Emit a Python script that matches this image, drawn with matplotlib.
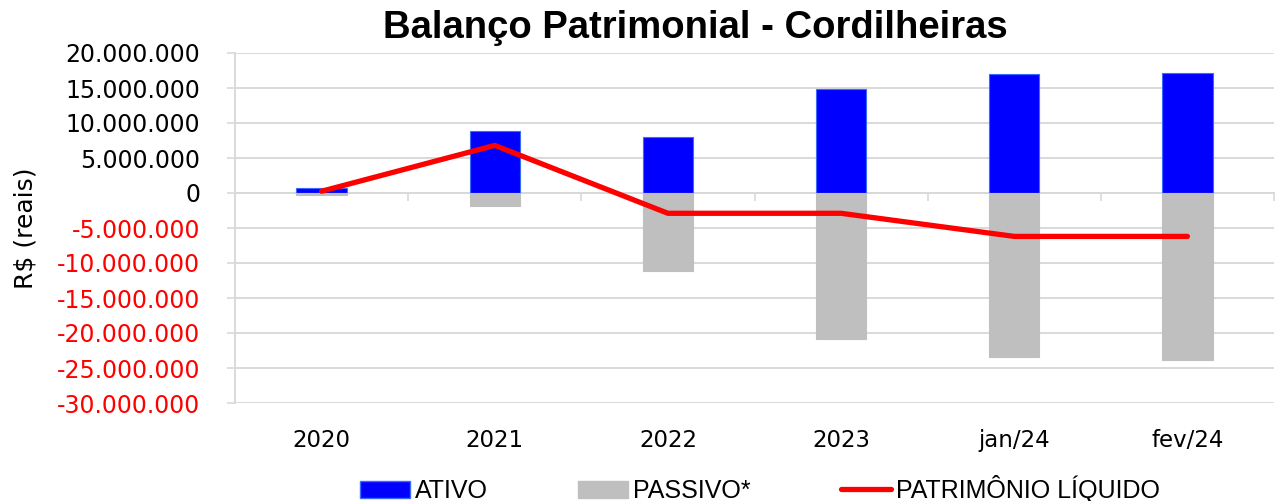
import matplotlib
matplotlib.use("Agg")
import matplotlib.pyplot as plt
from matplotlib.patches import Patch
from matplotlib.lines import Line2D
from matplotlib.ticker import FuncFormatter

categories = ["2020", "2021", "2022", "2023", "jan/24", "fev/24"]
ativo = [0.71e6, 8.9e6, 8.0e6, 14.8e6, 17.05e6, 17.15e6]
passivo = [-0.35e6, -1.9e6, -11.15e6, -20.9e6, -23.45e6, -23.85e6]
patrimonio = [0.25e6, 6.8e6, -2.9e6, -2.9e6, -6.2e6, -6.2e6]
yticks = list(range(-30_000_000, 20_000_001, 5_000_000))

plt.rcParams["font.family"] = ["DejaVu Sans"]

W, H = 1278, 501
fig = plt.figure(figsize=(W / 100, H / 100), dpi=100)
ax = fig.add_axes([235 / W, (H - 403) / H, (1274 - 235) / W, 350 / H])

x = list(range(len(categories)))
bw = 0.29
ax.bar(x, ativo, width=bw, color="#0000FF", edgecolor="#3A6BFF", linewidth=0.8, zorder=3)
ax.bar(x, passivo, width=bw, color="#BFBFBF", edgecolor="#BFBFBF", linewidth=0.8, zorder=3)
ax.plot(x, patrimonio, color="#FF0000", linewidth=3.8, solid_capstyle="round",
        solid_joinstyle="round", zorder=4)

ax.set_xlim(-0.5, len(categories) - 0.5)
ax.set_ylim(yticks[0], yticks[-1])
ax.set_yticks(yticks)

def fmt(v, pos):
    v = int(round(v))
    s = f"{abs(v):,}".replace(",", ".")
    return ("-" if v < 0 else "") + s

ax.yaxis.set_major_formatter(FuncFormatter(fmt))
ax.tick_params(axis="y", labelsize=17, length=6, width=1.2, color="#D9D9D9", pad=19)
for lbl, v in zip(ax.get_yticklabels(), yticks):
    lbl.set_color("#FF0000" if v < 0 else "black")

ax.set_xticks(x)
ax.set_xticklabels(categories)
ax.tick_params(axis="x", labelsize=16.5, length=0, pad=19)

ax.grid(axis="y", color="#D9D9D9", linewidth=1.4, zorder=0)
ax.set_axisbelow(True)
for s in ["top", "right", "bottom"]:
    ax.spines[s].set_visible(False)
ax.spines["left"].set_color("#D9D9D9")
ax.spines["left"].set_linewidth(1.4)

# category axis crossing at zero, ticks pointing down
frac0 = (0 - yticks[0]) / (yticks[-1] - yticks[0])
sec = ax.secondary_xaxis(frac0)
sec.set_alignment("bottom")
sec.set_xticks([i + 0.5 for i in x])
sec.set_xticklabels([])
sec.tick_params(axis="x", length=6, width=1.2, color="#D9D9D9", direction="out")
for s in ["top", "bottom"]:
    sec.spines[s].set_color("#D9D9D9")
    sec.spines[s].set_linewidth(1.4)

ax.set_ylabel("R$ (reais)", fontsize=18)
ax.yaxis.set_label_coords((38 - 235) / (1274 - 235), 0.5)

fig.text(695 / W, 1 - 38 / H, "Balanço Patrimonial - Cordilheiras", ha="center", va="baseline",
         fontsize=27.5, fontweight="bold", family=["Liberation Sans", "DejaVu Sans"])

handles = [Patch(facecolor="#0000FF", edgecolor="#3A6BFF"),
           Patch(facecolor="#BFBFBF", edgecolor="#BFBFBF"),
           Line2D([0], [0], color="#FF0000", linewidth=3.8, solid_capstyle="round")]
leg = fig.legend(handles, ["ATIVO", "PASSIVO*", "PATRIMÔNIO LÍQUIDO"], loc="center",
                 bbox_to_anchor=(760 / W, 1 - 489 / H), ncol=3, frameon=False,
                 prop={"family": ["Liberation Sans", "DejaVu Sans"], "size": 18},
                 handlelength=2.0, handleheight=0.7, handletextpad=0.2, columnspacing=3.6)

fig.savefig("out.png", dpi=100)
